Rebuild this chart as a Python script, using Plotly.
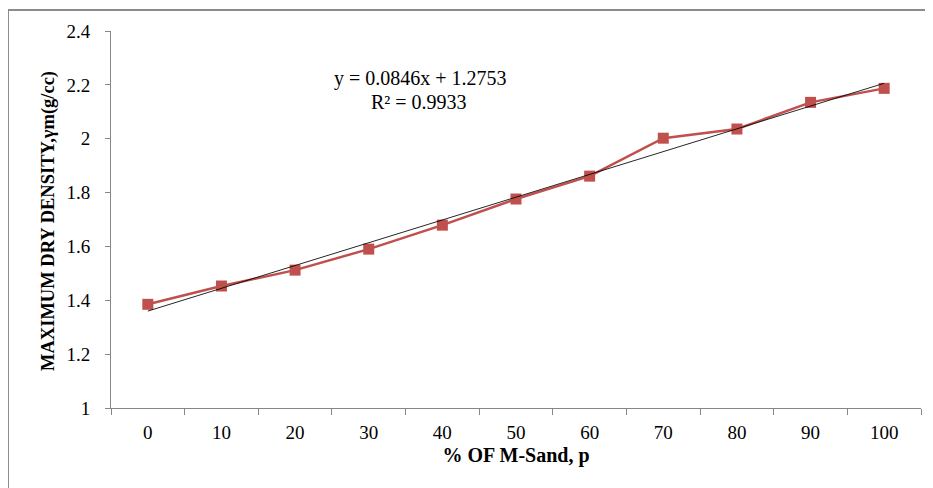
import plotly.graph_objects as go

categories = ["0", "10", "20", "30", "40", "50", "60", "70", "80", "90", "100"]
density = [1.385, 1.453, 1.512, 1.59, 1.679, 1.776, 1.861, 2.002, 2.036, 2.135, 2.187]
slope = 0.0846
intercept = 1.2753
y_ticks = [1, 1.2, 1.4, 1.6, 1.8, 2, 2.2, 2.4]
y_tick_text = ["1", "1.2", "1.4", "1.6", "1.8", "2", "2.2", "2.4"]
eq_lines = ["y = 0.0846x + 1.2753", "R² = 0.9933"]

trend = [slope * (i + 1) + intercept for i in range(len(categories))]

FONT = "Liberation Serif"

fig = go.Figure()
fig.add_trace(go.Scatter(
    x=categories, y=density, mode="lines+markers",
    line=dict(color="#C0504D", width=2.5),
    marker=dict(symbol="square", size=11, color="#C0504D"),
    showlegend=False, cliponaxis=False,
))
fig.add_trace(go.Scatter(
    x=categories, y=trend, mode="lines",
    line=dict(color="black", width=1),
    opacity=0.85,
    showlegend=False,
))

# page offset of 8px (body margin) compensated
L, T, PW, PH = 103, 23, 810, 377
W, H = 925, 480


def py(page_y):
    return (408 - page_y) / PH


fig.update_layout(
    width=W, height=H,
    margin=dict(l=L, r=W - L - PW, t=T, b=H - T - PH),
    paper_bgcolor="white", plot_bgcolor="white",
    font=dict(family=FONT, size=19, color="black"),
    xaxis=dict(
        type="category", tickson="boundaries", range=[-0.5, 10.5],
        showline=True, linecolor="#868686", linewidth=1,
        ticks="outside", ticklen=6, tickcolor="#868686",
        showgrid=False, zeroline=False,
        tickfont=dict(family=FONT, size=19),
        title=dict(text="<b>% OF M-Sand, p</b>", font=dict(family=FONT, size=20), standoff=6),
        ticklabelstandoff=7,
    ),
    yaxis=dict(
        range=[1, 2.4], tickvals=y_ticks, ticktext=y_tick_text,
        showline=True, linecolor="#868686", linewidth=1,
        ticks="outside", ticklen=5, tickcolor="#868686",
        showgrid=False, zeroline=False,
        tickfont=dict(family=FONT, size=19),
        ticklabelstandoff=11,
    ),
    shapes=[dict(
        type="rect", xref="paper", yref="paper",
        x0=(0 - L) / PW, x1=1.2, y0=-0.5, y1=1 + (T - 2) / PH,
        line=dict(color="#8c8c8c", width=2), fillcolor="rgba(0,0,0,0)", layer="below",
    )],
    annotations=[
        dict(text=eq_lines[0], xref="paper", yref="paper",
             x=(420 - 111) / PW, y=py(78), xanchor="center", yanchor="middle",
             showarrow=False, font=dict(family=FONT, size=20)),
        dict(text=eq_lines[1], xref="paper", yref="paper",
             x=(419 - 111) / PW, y=py(102), xanchor="center", yanchor="middle",
             showarrow=False, font=dict(family=FONT, size=20)),
        dict(text="<b>MAXIMUM DRY DENSITY,γm(g/cc)</b>", xref="paper", yref="paper",
             x=(48 - 111) / PW, y=py(221), xanchor="center", yanchor="middle",
             textangle=-90, showarrow=False, font=dict(family=FONT, size=18.5)),
    ],
)

fig.write_html("out.html")
